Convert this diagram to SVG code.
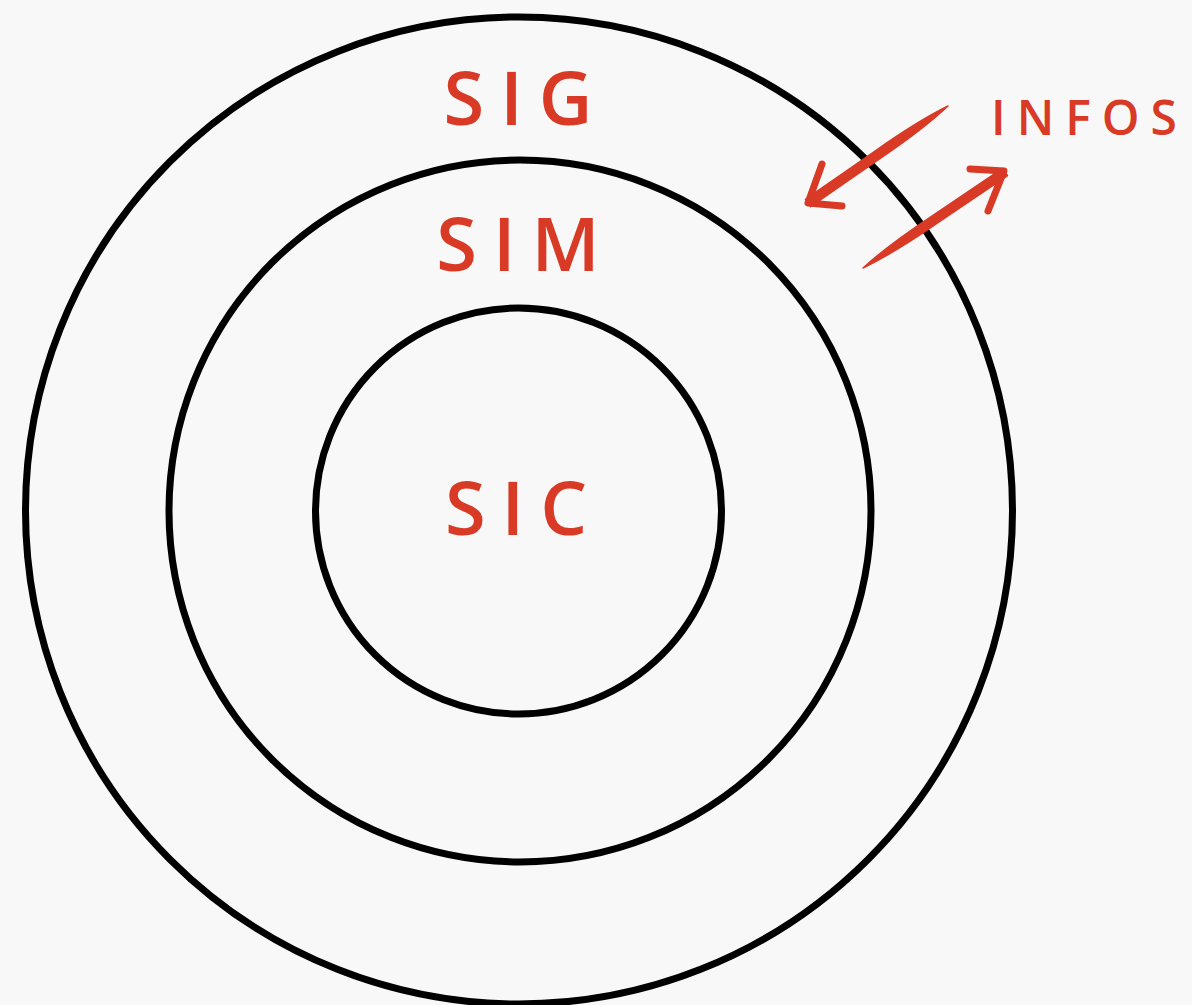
<svg xmlns="http://www.w3.org/2000/svg" width="1192" height="1005" viewBox="0 0 1192 1005">
<style>
.ring{fill:none;stroke:#000;stroke-width:7}
.lbl{font-family:"Open Sans","Liberation Sans",sans-serif;font-weight:600;fill:#d93a26}
.big{font-size:74px;letter-spacing:16px;text-anchor:middle}
.small{font-size:48px;letter-spacing:11px}
.arr{fill:none;stroke:#d93a26;stroke-width:7;stroke-linecap:round;stroke-linejoin:round}
.shaft{fill:#d93a26;stroke:#d93a26;stroke-width:1.5;stroke-linejoin:round}
</style>
<rect width="1192" height="1005" fill="#f8f8f8"/>
<g id="sig"><circle class="ring" cx="519" cy="510.5" r="493.5"/><text class="lbl big" x="526" y="125">SIG</text></g>
<g id="sim"><circle class="ring" cx="520" cy="511" r="351"/><text class="lbl big" x="526" y="271">SIM</text></g>
<g id="sic"><circle class="ring" cx="518.5" cy="511" r="203"/><text class="lbl big" x="524" y="535">SIC</text></g>
<g id="infos"><text class="lbl small" x="991" y="135">INFOS</text></g>
<g id="connectors">
<path class="shaft" d="M810.6,206.7 L880.6,158.2 Q922.9,129.5 948,106 Q917.2,121.3 875.4,150.8 L805.4,199.3 Z"/>
<path class="arr" d="M822,164 L808,203 L842,206"/>
<path class="shaft" d="M1007.5,175.7 L936.5,223.7 Q894.2,253 863,268 Q888.6,244.7 931.5,216.3 L1002.5,168.3 Z"/>
<path class="arr" d="M970,169 L1004,171 L988,211"/>
</g>
</svg>
